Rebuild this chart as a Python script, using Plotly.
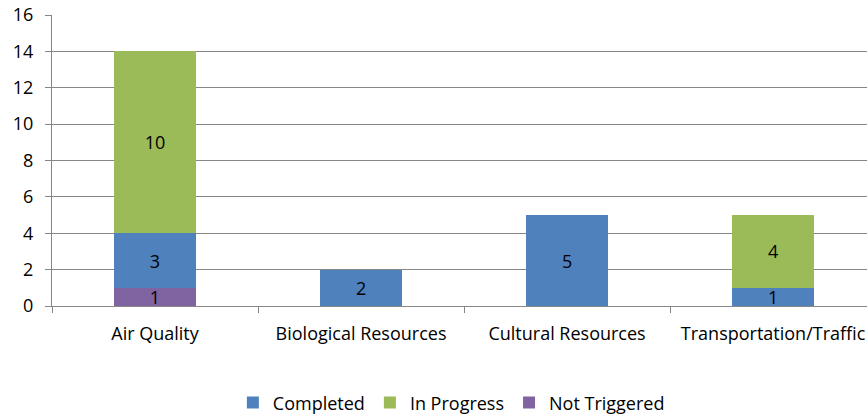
import plotly.graph_objects as go

categories = ["Air Quality", "Biological Resources", "Cultural Resources", "Transportation/Traffic"]
completed = [3, 2, 5, 1]
in_progress = [10, 0, 0, 4]
not_triggered = [1, 0, 0, 0]
y_ticks = [0, 2, 4, 6, 8, 10, 12, 14, 16]

FONT = "Open Sans"
FS = 18
colors = {"Completed": "#4F81BD", "In Progress": "#9BBB59", "Not Triggered": "#8064A2"}

def labels(vals):
    return [str(v) if v else "" for v in vals]

fig = go.Figure()
for name, vals, rank in [("Not Triggered", not_triggered, 3),
                         ("Completed", completed, 1),
                         ("In Progress", in_progress, 2)]:
    fig.add_trace(go.Bar(
        x=categories, y=vals, name=name, legendrank=rank,
        marker=dict(color=colors[name], line=dict(width=0)),
        text=labels(vals), textposition="inside", insidetextanchor="middle",
        textangle=0, textfont=dict(color="black", size=FS, family=FONT),
        hoverinfo="x+y+name",
    ))

fig.update_layout(
    barmode="stack", bargap=0.6,
    width=867, height=414,
    margin=dict(l=52, r=0, t=15, b=108, autoexpand=False),
    plot_bgcolor="white", paper_bgcolor="white",
    font=dict(family=FONT, size=FS, color="black"),
    uniformtext=dict(minsize=FS, mode="show"),
    legend=dict(orientation="h", x=0.49, xanchor="center", y=-0.333, yanchor="middle",
                font=dict(size=FS, family=FONT), traceorder="normal",
                itemwidth=30, tracegroupgap=0),
    showlegend=True,
)
fig.update_xaxes(
    range=[-0.5, 3.456], showline=True, linecolor="#868686", linewidth=1,
    tickson="boundaries", ticks="outside", ticklen=6, tickcolor="#868686",
    showgrid=False, tickfont=dict(size=FS, family=FONT, color="black"),
    ticklabelstandoff=11, automargin=False, ticklabeloverflow="allow",
)
fig.update_yaxes(
    range=[0, 16], tickvals=y_ticks, showline=True, linecolor="#868686", linewidth=1,
    ticks="outside", ticklen=6, tickcolor="#868686",
    showgrid=True, gridcolor="#868686", gridwidth=1, zeroline=False,
    tickfont=dict(size=FS, family=FONT, color="black"), ticklabelstandoff=8,
    automargin=False, ticklabeloverflow="allow",
)
fig.write_html("out.html", config={"displayModeBar": False},
               post_script="document.body.style.margin='0';document.body.style.overflow='hidden';")
